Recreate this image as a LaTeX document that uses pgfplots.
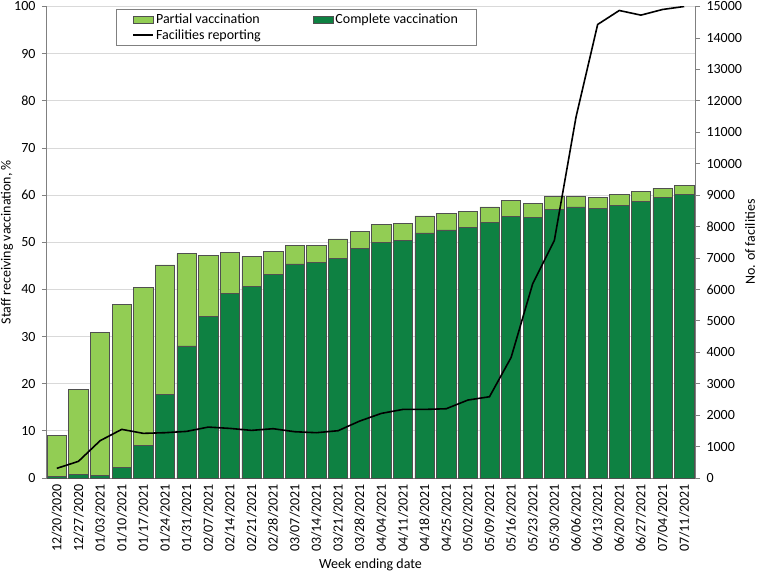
\documentclass[border=0pt]{standalone}
\usepackage{fontspec}
\setmainfont{Carlito}
\usepackage{pgfplots}
\usepackage{pgfplotstable}
\pgfplotsset{compat=1.18}
\definecolor{lightg}{RGB}{146,205,84}
\definecolor{darkg}{RGB}{14,129,66}
\definecolor{gridc}{RGB}{217,217,217}
\definecolor{axc}{RGB}{128,128,128}
\definecolor{barline}{RGB}{80,80,80}

\pgfplotstableread{
x comp part fac
0 0.3 8.7 307
1 0.8 18.0 530
2 0.6 30.3 1186
3 2.3 34.6 1547
4 6.9 33.5 1420
5 17.7 27.5 1441
6 28.0 19.6 1483
7 34.3 12.9 1620
8 39.1 8.8 1578
9 40.6 6.4 1515
10 43.2 4.8 1568
11 45.4 4.0 1472
12 45.8 3.5 1441
13 46.6 4.1 1504
14 48.7 3.6 1811
15 50.0 3.8 2055
16 50.4 3.6 2182
17 52.0 3.6 2182
18 52.6 3.5 2203
19 53.2 3.4 2479
20 54.2 3.3 2585
21 55.5 3.3 3835
22 55.2 3.0 6186
23 57.0 2.7 7563
24 57.5 2.3 11483
25 57.1 2.4 14428
26 57.8 2.3 14873
27 58.7 2.0 14725
28 59.5 2.0 14905
29 60.1 1.9 15000
}\data

\newcommand{\fs}{\fontsize{14bp}{16bp}\selectfont}

\begin{document}
\begin{tikzpicture}
\path[use as bounding box] (-46bp,-96bp) rectangle (712bp,478bp);
\begin{axis}[
  scale only axis, width=649bp, height=471.5bp,
  xmin=-0.5, xmax=29.5, ymin=0, ymax=100,
  ybar stacked, bar width=19.3bp,
  axis x line*=bottom, axis y line*=left,
  axis line style={axc, line width=0.8bp},
  ytick={0,10,...,100},
  ymajorgrids, grid style={gridc, line width=0.8bp},
  xtick={0,...,29},
  xticklabels={12/20/2020,12/27/2020,01/03/2021,01/10/2021,01/17/2021,01/24/2021,01/31/2021,02/07/2021,02/14/2021,02/21/2021,02/28/2021,03/07/2021,03/14/2021,03/21/2021,03/28/2021,04/04/2021,04/11/2021,04/18/2021,04/25/2021,05/02/2021,05/09/2021,05/16/2021,05/23/2021,05/30/2021,06/06/2021,06/13/2021,06/20/2021,06/27/2021,07/04/2021,07/11/2021},
  x tick label style={rotate=90, anchor=east, font=\fs, inner sep=2bp},
  y tick label style={font=\fs, xshift=-3bp},
  major x tick style={draw=none},
  y tick style={axc, line width=0.8bp},
  tick align=outside, major tick length=4bp,
  /pgf/number format/assume math mode=true,
  xlabel={Week ending date},
  ylabel={Staff receiving vaccination, \%},
  every axis x label/.style={at={(axis description cs:0.5,0)}, anchor=center, yshift=-87bp, font=\fs},
  every axis y label/.style={at={(axis description cs:0,0.5)}, xshift=-39bp, rotate=90, anchor=center, font=\fs},
]
\addplot[fill=darkg, draw=barline, line width=0.6bp] table[x=x,y=comp]{\data};
\addplot[fill=lightg, draw=barline, line width=0.6bp] table[x=x,y=part]{\data};
\end{axis}
\begin{axis}[
  scale only axis, width=649bp, height=471.5bp,
  xmin=-0.5, xmax=29.5, ymin=0, ymax=15000,
  axis x line=none, axis y line*=right,
  axis line style={axc, line width=0.8bp},
  ytick={0,1000,...,15000},
  scaled y ticks=false,
  y tick label style={font=\fs, xshift=3bp, /pgf/number format/set thousands separator={}},
  y tick style={axc, line width=0.8bp},
  tick align=outside, major tick length=5bp,
  /pgf/number format/assume math mode=true,
  ylabel={No. of facilities},
  every axis y label/.style={at={(axis description cs:1,0.5)}, xshift=55bp, rotate=90, anchor=center, font=\fs},
  legend columns=2,
  legend cell align=left,
  legend style={at={(axis description cs:0.108,0.995)}, anchor=north west, draw=axc, line width=0.8bp, font=\fs,
    inner xsep=16bp, inner ysep=3bp, row sep=0bp,
    /tikz/column 2/.style={column sep=50bp}},
]
\addlegendimage{legend image code/.code={\draw[fill=lightg, draw=barline, line width=0.6bp] (0bp,-3.5bp) rectangle (20bp,3.5bp);}}
\addlegendimage{legend image code/.code={\draw[fill=darkg, draw=barline, line width=0.6bp] (0bp,-3.5bp) rectangle (20bp,3.5bp);}}
\addplot[black, line width=1.6bp, mark=none, legend image code/.code={\draw[black, line width=1.6bp] (0bp,0bp) -- (20bp,0bp);}] table[x=x,y=fac]{\data};
\legend{Partial vaccination, Complete vaccination, Facilities reporting}
\end{axis}
\end{tikzpicture}
\end{document}
